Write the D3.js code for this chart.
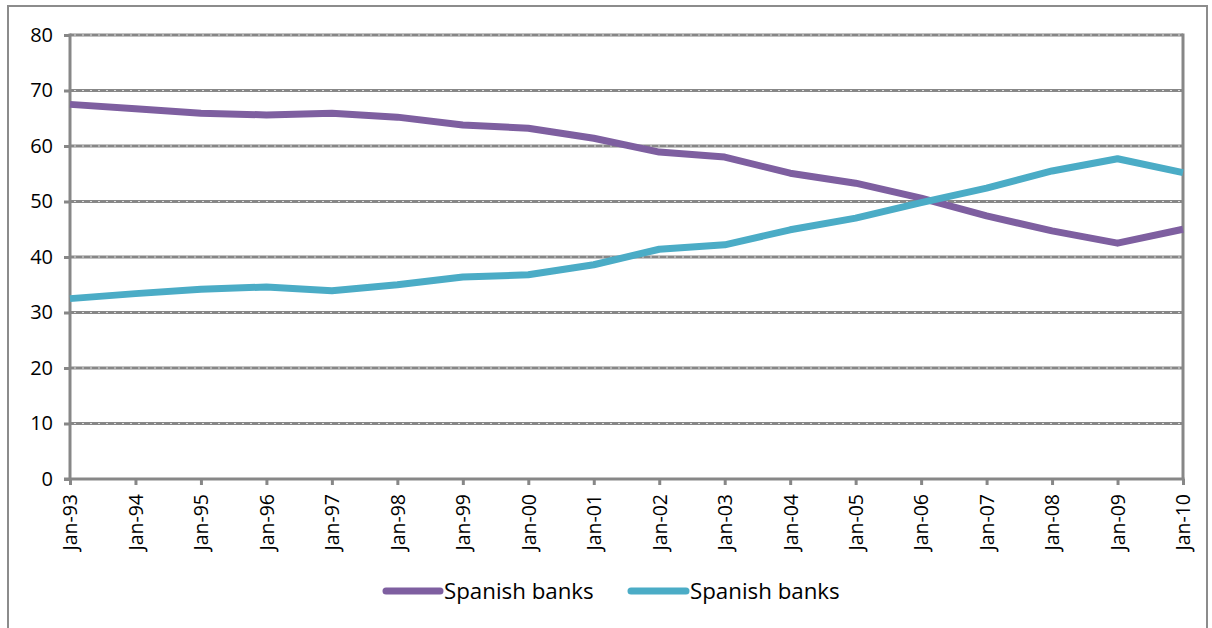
<!DOCTYPE html>
<html><head><meta charset="utf-8">
<script src="https://cdn.jsdelivr.net/npm/d3@7/dist/d3.min.js"></script>
<style>body{margin:0;background:#fff}svg{display:block}</style>
</head><body>
<svg id="c" width="1212" height="628"></svg>
<script>
const categories = ["Jan-93","Jan-94","Jan-95","Jan-96","Jan-97","Jan-98","Jan-99","Jan-00","Jan-01","Jan-02","Jan-03","Jan-04","Jan-05","Jan-06","Jan-07","Jan-08","Jan-09","Jan-10"];
const seriesA = [67.5,66.7,65.9,65.6,65.9,65.2,63.8,63.2,61.4,58.9,58.0,55.1,53.3,50.6,47.4,44.7,42.5,45.0];
const seriesB = [32.5,33.4,34.2,34.6,33.9,35.0,36.4,36.8,38.6,41.4,42.2,44.9,47.0,49.8,52.4,55.5,57.7,55.2];
const seriesNames = ["Spanish banks","Spanish banks"];
const yTicks = [0,10,20,30,40,50,60,70,80];
const colors = ["#7E5FA0","#4BACC6"];

const svg = d3.select("#c");
const font = "'Open Sans', sans-serif";
const L = 70, R = 1183, T = 35, B = 479;
const x = d3.scalePoint().domain(categories).range([L, R]);
const y = d3.scaleLinear().domain([0, 80]).range([B, T]);
const grey = "#878787";

// outer border
svg.append("rect").attr("x", 8).attr("y", 6).attr("width", 1199).attr("height", 640)
  .attr("fill", "none").attr("stroke", "#8c8c8c").attr("stroke-width", 2);

// gridlines: solid grey band with light dots in the middle
const gl = svg.append("g");
gl.selectAll("line.g").data(yTicks.filter(d => d > 0)).join("line").attr("class", "g")
  .attr("x1", L).attr("x2", R).attr("y1", d => y(d)).attr("y2", d => y(d))
  .attr("stroke", grey).attr("stroke-width", 3);
gl.selectAll("line.d").data(yTicks.filter(d => d > 0)).join("line").attr("class", "d")
  .attr("x1", L + 4).attr("x2", R - 2).attr("y1", d => y(d)).attr("y2", d => y(d))
  .attr("stroke", "#dcdcdc").attr("stroke-width", 1).attr("stroke-dasharray", "2,6");

// right border of plot
svg.append("line").attr("x1", R).attr("x2", R).attr("y1", T - 1.5).attr("y2", B)
  .attr("stroke", grey).attr("stroke-width", 3);

// y axis
const ya = svg.append("g").attr("transform", `translate(${L},0)`)
  .call(d3.axisLeft(y).tickValues(yTicks).tickSize(6).tickPadding(8));
ya.select(".domain").attr("stroke", grey).attr("stroke-width", 3).attr("d", `M0,${T - 1.5}V${B + 1.5}`);
ya.selectAll(".tick line").attr("stroke", grey).attr("stroke-width", 3);
ya.selectAll(".tick text").attr("font-family", font).attr("font-size", 20).attr("fill", "#000")
  .attr("dx", -3);

// x axis
const xa = svg.append("g").attr("transform", `translate(0,${B})`)
  .call(d3.axisBottom(x).tickSize(6).tickPadding(4));
xa.select(".domain").attr("stroke", grey).attr("stroke-width", 3).attr("d", `M${L - 6},0H${R + 1.5}`);
xa.selectAll(".tick line").attr("stroke", grey).attr("stroke-width", 3);
xa.selectAll(".tick text").attr("font-family", font).attr("font-size", 19.5).attr("fill", "#000")
  .attr("transform", "rotate(-90)").attr("text-anchor", "end")
  .attr("x", -15).attr("y", 0).attr("dy", "0.35em");

// lines
const line = d3.line().x((d, i) => x(categories[i])).y(d => y(d));
[seriesA, seriesB].forEach((s, k) => {
  svg.append("path").datum(s).attr("d", line).attr("fill", "none")
    .attr("stroke", colors[k]).attr("stroke-width", 7).attr("stroke-linejoin", "round");
});

// legend
const leg = [{x1: 386, x2: 440, tx: 444}, {x1: 631, x2: 686, tx: 690}];
leg.forEach((p, k) => {
  svg.append("line").attr("x1", p.x1).attr("x2", p.x2).attr("y1", 591).attr("y2", 591)
    .attr("stroke", colors[k]).attr("stroke-width", 7).attr("stroke-linecap", "round");
  svg.append("text").attr("x", p.tx).attr("y", 591).attr("dy", "0.35em")
    .attr("font-family", font).attr("font-size", 22.3).attr("fill", "#000").text(seriesNames[k]);
});
</script>
</body></html>
